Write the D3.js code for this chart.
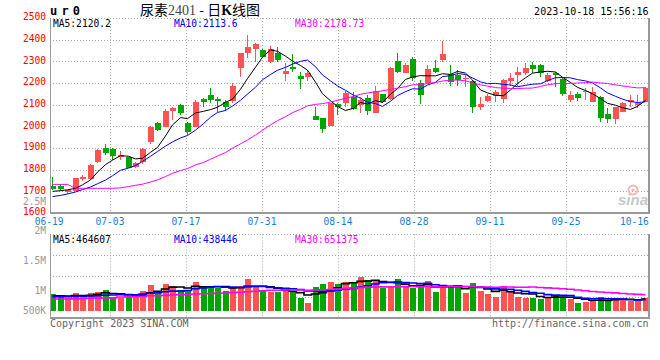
<!DOCTYPE html>
<html><head><meta charset="utf-8">
<script src="https://cdn.jsdelivr.net/npm/d3@7/dist/d3.min.js"></script>
<style>html,body{margin:0;padding:0;background:#fff}svg{display:block}</style>
</head><body>
<svg id="c" width="660" height="360"></svg>
<script>
// ---------------- data ----------------
const dates = ["06-19","06-20","06-21","06-26","06-27","06-28","06-29","06-30",
"07-03","07-04","07-05","07-06","07-07","07-10","07-11","07-12","07-13","07-14",
"07-17","07-18","07-19","07-20","07-21","07-24","07-25","07-26","07-27","07-28",
"07-31","08-01","08-02","08-03","08-04","08-07","08-08","08-09","08-10","08-11",
"08-14","08-15","08-16","08-17","08-18","08-21","08-22","08-23","08-24","08-25",
"08-28","08-29","08-30","08-31","09-01","09-04","09-05","09-06","09-07","09-08",
"09-11","09-12","09-13","09-14","09-15","09-18","09-19","09-20","09-21","09-22",
"09-25","09-26","09-27","09-28","10-09","10-10","10-11","10-12","10-13",
"10-16","10-17","10-18"];

const open  = [1725,1726,1699,1703,1756,1757,1837,1900,1896,1860,1857,1811,1837,1929,2014,1999,2073,2099,2017,1999,
               2126,2145,2128,2114,2119,2268,2340,2355,2352,2299,2337,2240,2275,2232,2229,2048,2039,2002,2103,2109,
               2134,2099,2129,2063,2149,2126,2300,2245,2309,2202,2198,2268,2306,2240,2237,2219,2209,2088,2117,2140,
               2126,2209,2237,2245,2283,2283,2209,2245,2217,2122,2149,2160,2114,2134,2056,2034,2068,2111,2099,2114];
const high  = [1768,1734,1708,1763,1774,1826,1894,1919,1899,1886,1860,1834,1899,2000,2020,2079,2088,2103,2022,2122,
               2129,2175,2134,2122,2202,2340,2422,2383,2355,2371,2365,2291,2332,2249,2260,2088,2039,2106,2106,2165,
               2160,2137,2145,2186,2149,2274,2340,2291,2318,2214,2283,2306,2394,2283,2260,2237,2214,2134,2149,2168,
               2217,2245,2275,2294,2299,2286,2245,2252,2226,2163,2160,2175,2180,2142,2083,2088,2114,2145,2145,2183];
const low   = [1706,1703,1688,1700,1746,1755,1833,1868,1845,1845,1806,1808,1825,1919,1979,1999,2029,2052,1960,1999,
               2091,2106,2068,2072,2109,2226,2314,2299,2318,2294,2299,2209,2249,2172,2209,2029,1971,2002,2052,2088,
               2075,2063,2052,2063,2106,2120,2245,2245,2209,2103,2198,2248,2299,2186,2186,2183,2063,2075,2114,2114,
               2106,2186,2186,2237,2248,2229,2206,2183,2140,2114,2117,2122,2114,2022,2017,2009,2068,2091,2083,2114];
const close = [1709,1709,1706,1760,1765,1822,1891,1879,1863,1868,1809,1829,1894,1999,1983,2073,2083,2063,1976,2114,
               2111,2122,2117,2091,2186,2340,2368,2380,2322,2355,2306,2257,2266,2220,2248,2029,1988,2106,2088,2155,
               2079,2122,2072,2165,2114,2268,2252,2283,2222,2145,2263,2252,2332,2206,2214,2225,2091,2103,2140,2158,
               2214,2225,2252,2271,2265,2245,2237,2236,2149,2145,2132,2165,2160,2040,2034,2088,2106,2122,2109,2175];
const volume = [680000,572000,508000,732000,575000,732000,772000,840000,570000,508000,
                612000,640000,812000,1052000,812000,1092000,1012000,840000,842000,1172000,
                972000,1012000,908000,812000,908000,1012000,1280000,948000,812000,772000,
                772000,840000,748000,508000,332000,972000,1092000,1172000,1080000,1160000,
                1132000,1372000,1240000,1240000,908000,1000000,1280000,948000,908000,1000000,
                1200000,772000,908000,1000000,1040000,732000,1132000,812000,680000,572000,
                1000000,772000,572000,532000,532000,492000,572000,640000,572000,468000,
                332000,372000,412000,572000,412000,480000,480000,412000,480000,532000];

// moving-average values before a full window exists
const ma5Lead  = [1700,1703,1707,1714];
const ma10Lead = [1676,1681,1688,1697,1708,1720,1735,1752,1772];
const ma30Lead = [1732,1732,1732,1714,1714,1714,1714,1714,1714,1716,1722,1728,1733,1743,1753,1768,1783,1796,1805,
                  1822,1833,1848,1863,1879,1899,1919,1937,1960,1982];
const vma5Lead  = [610000,605000,600000,615000];
const vma10Lead = [570000,570000,575000,580000,588000,600000,615000,628000,640000];
const vma30Lead = [480000,480000,482000,485000,488000,510000,515000,520000,525000,560000,565000,575000,585000,610000,
                   615000,625000,640000,655000,660000,680000,690000,700000,710000,722000,735000,750000,770000,790000,808000];

const priceTicks = [1600,1700,1800,1900,2000,2100,2200,2300,2400,2500];
const dateTicks  = ["06-19","07-03","07-17","07-31","08-14","08-28","09-11","09-25","10-16"];
const volTicks   = [500000,1000000,1500000,2000000,2500000];
const volTickLabels = ["500K","1M","1.5M","2M","2.5M"];
const maLabels   = ["MA5:2120.2","MA10:2113.6","MA30:2178.73"];
const volMaLabels= ["MA5:464607","MA10:438446","MA30:651375"];
const maColors   = ["#000000","#0000ff","#ff00ff"];

// ---------------- helpers ----------------
function rolling(arr, n, lead){
  return arr.map((_, i) => i < n - 1 ? lead[i] : d3.mean(arr.slice(i - n + 1, i + 1)));
}
const ma5 = rolling(close,5,ma5Lead), ma10 = rolling(close,10,ma10Lead), ma30 = rolling(close,30,ma30Lead);
const vma5 = rolling(volume,5,vma5Lead), vma10 = rolling(volume,10,vma10Lead), vma30 = rolling(volume,30,vma30Lead);

// ---------------- layout & scales ----------------
const P = {l:50, r:649, t:18, b:213};
const V = {t:234.3, b:317.5, base:311};
const n = dates.length;
const x  = d3.scaleLinear().domain([0, n-1]).range([50, 642.5]);       // candle left edges
const gx = d3.scaleLinear().domain([0, n-1]).range([49.2, 649.6]);     // date grid / labels
const y  = d3.scaleLinear().domain([1600, 2500]).range([P.b, P.t]);
const yv = d3.scaleLinear().domain([0, 3.08e6]).range([V.base, 234]);
const yvLabel = d3.scaleLinear().domain([1e6, 2.5e6]).range([294, 204.5]);
const left = i => Math.ceil(x(i));
const cx = i => left(i) + 2.5;

const RED = "#ff5252", GREEN = "#00a600", GRID = "#aaaaaa", FRAME = "#999999";
const MONO = "'DejaVu Sans Mono', 'Liberation Mono', monospace";

const svg = d3.select("#c");
const defs = svg.append("defs");
defs.append("clipPath").attr("id","cp").append("rect").attr("x",P.l).attr("y",P.t).attr("width",P.r-P.l).attr("height",P.b-P.t);
defs.append("clipPath").attr("id","cv").append("rect").attr("x",P.l).attr("y",V.t).attr("width",P.r-P.l).attr("height",V.b-V.t);

// ---------------- header ----------------
svg.append("text").attr("x",50).attr("y",15).attr("font-family",MONO).attr("font-weight","bold")
  .attr("font-size",12).attr("letter-spacing","4.2px").attr("fill","#000").text("ur0");
const title = svg.append("text").attr("x",140).attr("y",14.5).attr("font-size",14).attr("fill","#000")
  .attr("font-family","'Noto Sans CJK SC', sans-serif");
title.append("tspan").text("尿素");
title.append("tspan").attr("font-family","'Liberation Serif', serif").attr("fill","#444").attr("font-size",14).text("2401");
title.append("tspan").text(" - 日");
title.append("tspan").attr("font-family","'Liberation Serif', serif").attr("font-weight","bold").text("K");
title.append("tspan").text("线图");
svg.append("text").attr("x",648.5).attr("y",15).attr("text-anchor","end").attr("font-family",MONO)
  .attr("font-size",10).attr("fill","#000").text("2023-10-18 15:56:16");

// ---------------- price panel ----------------
const gp = svg.append("g");
// horizontal dotted grid (incl. top border)
gp.selectAll("line.hg").data(priceTicks.filter(t => t > 1600)).join("line")
  .attr("x1",P.l).attr("x2",P.r).attr("y1",d => Math.round(y(d))+0.5).attr("y2",d => Math.round(y(d))+0.5)
  .attr("stroke",GRID).attr("stroke-dasharray","1,2");
const gridIdx = dateTicks.map(d => dates.indexOf(d)).slice(1, -1);
gp.selectAll("line.vg").data(gridIdx).join("line")
  .attr("x1",d => Math.round(gx(d))+0.5).attr("x2",d => Math.round(gx(d))+0.5).attr("y1",P.t).attr("y2",P.b)
  .attr("stroke",GRID).attr("stroke-dasharray","1,2");
// price labels
gp.selectAll("text.pl").data(priceTicks).join("text")
  .attr("x",46).attr("y",d => y(d)+2.3).attr("text-anchor","end").attr("font-family",MONO)
  .attr("font-size",9.6).attr("fill","#ff0000").text(d => d);
// watermark
const wm = svg.append("g");
wm.append("circle").attr("cx",633).attr("cy",190).attr("r",4.5).attr("fill","none").attr("stroke","#f3b8b8").attr("stroke-width",2);
wm.append("circle").attr("cx",633).attr("cy",190).attr("r",1.6).attr("fill","#f3b8b8");
wm.append("text").attr("x",618).attr("y",205).attr("font-family","'Liberation Sans', sans-serif").attr("font-style","italic")
  .attr("font-weight","bold").attr("font-size",15).attr("fill","#c9c9c9").text("sina");

// candles
const cg = svg.append("g").attr("clip-path","url(#cp)").attr("shape-rendering","crispEdges");
const idx = d3.range(n);
cg.selectAll("rect.wick").data(idx).join("rect")
  .attr("x",i => left(i)+2).attr("width",1)
  .attr("y",i => y(high[i])).attr("height",i => Math.max(1, y(low[i]) - y(high[i])))
  .attr("fill",i => close[i] >= open[i] ? RED : GREEN);
cg.selectAll("rect.body").data(idx).join("rect")
  .attr("x",i => left(i)).attr("width",6)
  .attr("y",i => y(Math.max(open[i],close[i])))
  .attr("height",i => Math.max(1, Math.abs(y(open[i]) - y(close[i]))))
  .attr("fill",i => close[i] >= open[i] ? RED : GREEN);
// MA lines
const lg = svg.append("g").attr("clip-path","url(#cp)");
[ma5, ma10, ma30].forEach((s, k) => {
  lg.append("path").datum(s).attr("fill","none").attr("stroke",maColors[k]).attr("stroke-width",1)
    .attr("d", d3.line().x((d,i) => cx(i)).y(d => y(d)));
});
// MA labels
const maX = [53, 174, 295];
maLabels.forEach((t,k) => svg.append("text").attr("x",maX[k]).attr("y",27).attr("font-family",MONO)
  .attr("font-size",9.6).attr("fill",maColors[k]).text(t));
// frame
const fr = svg.append("g").attr("shape-rendering","crispEdges");
fr.append("line").attr("x1",P.l+0.5).attr("x2",P.l+0.5).attr("y1",P.t).attr("y2",P.b).attr("stroke",FRAME);
fr.append("line").attr("x1",P.l).attr("x2",P.r+1).attr("y1",P.b).attr("y2",P.b).attr("stroke",FRAME).attr("stroke-width",2);
fr.append("line").attr("x1",P.r).attr("x2",P.r).attr("y1",P.t).attr("y2",P.b).attr("stroke",FRAME).attr("stroke-width",2);
// date labels
svg.selectAll("text.dl").data(dateTicks).join("text")
  .attr("x",d => gx(dates.indexOf(d))).attr("y",225).attr("text-anchor","middle").attr("font-family",MONO)
  .attr("font-size",9.6).attr("fill","#1a7fd0").text(d => d);

// ---------------- volume panel ----------------
const vg = svg.append("g");
vg.append("line").attr("x1",P.l).attr("x2",P.r).attr("y1",Math.round(V.t)+0.5).attr("y2",Math.round(V.t)+0.5)
  .attr("stroke",GRID).attr("stroke-dasharray","1,2");
vg.selectAll("line.vh").data(d3.range(1,4)).join("line")
  .attr("x1",P.l).attr("x2",P.r)
  .attr("y1",k => Math.round(V.t + k*(V.b-V.t)/4)+0.5).attr("y2",k => Math.round(V.t + k*(V.b-V.t)/4)+0.5)
  .attr("stroke",GRID).attr("stroke-dasharray","1,2");
vg.selectAll("line.vv").data(gridIdx).join("line")
  .attr("x1",d => Math.round(gx(d))+0.5).attr("x2",d => Math.round(gx(d))+0.5).attr("y1",V.t).attr("y2",V.b)
  .attr("stroke",GRID).attr("stroke-dasharray","1,2");
vg.selectAll("text.vl").data(volTicks).join("text")
  .attr("x",46).attr("y",d => Math.min(314, yvLabel(d))).attr("text-anchor","end").attr("font-family",MONO)
  .attr("font-size",9.6).attr("fill","#999").text((d,i) => volTickLabels[i]);
const bg = svg.append("g").attr("clip-path","url(#cv)").attr("shape-rendering","crispEdges");
bg.selectAll("rect").data(idx).join("rect")
  .attr("x",i => left(i)).attr("width",6)
  .attr("y",i => yv(volume[i])).attr("height",i => V.base - yv(volume[i]))
  .attr("fill",i => close[i] >= open[i] ? RED : GREEN);
const vl = svg.append("g").attr("clip-path","url(#cv)");
[vma5, vma10, vma30].forEach((s,k) => {
  vl.append("path").datum(s).attr("fill","none").attr("stroke",maColors[k]).attr("stroke-width",1.6)
    .attr("d", d3.line().curve(d3.curveStep).x((d,i) => cx(i)).y(d => yv(d)));
});
volMaLabels.forEach((t,k) => svg.append("text").attr("x",maX[k]).attr("y",242.5).attr("font-family",MONO)
  .attr("font-size",9.6).attr("fill",maColors[k]).text(t));
const fv = svg.append("g").attr("shape-rendering","crispEdges");
fv.append("line").attr("x1",P.l+0.5).attr("x2",P.l+0.5).attr("y1",V.t).attr("y2",V.b).attr("stroke",FRAME);
fv.append("line").attr("x1",P.l).attr("x2",P.r+1).attr("y1",V.b).attr("y2",V.b).attr("stroke",FRAME).attr("stroke-width",2);
fv.append("line").attr("x1",P.r).attr("x2",P.r).attr("y1",V.t).attr("y2",V.b).attr("stroke",FRAME).attr("stroke-width",2);

// footer
svg.append("text").attr("x",50).attr("y",327).attr("font-family",MONO).attr("font-size",10).attr("fill","#666")
  .text("Copyright 2023 SINA.COM");
svg.append("text").attr("x",648.5).attr("y",327).attr("text-anchor","end").attr("font-family",MONO).attr("font-size",10)
  .attr("fill","#666").text("http://finance.sina.com.cn");
</script>
</body></html>
